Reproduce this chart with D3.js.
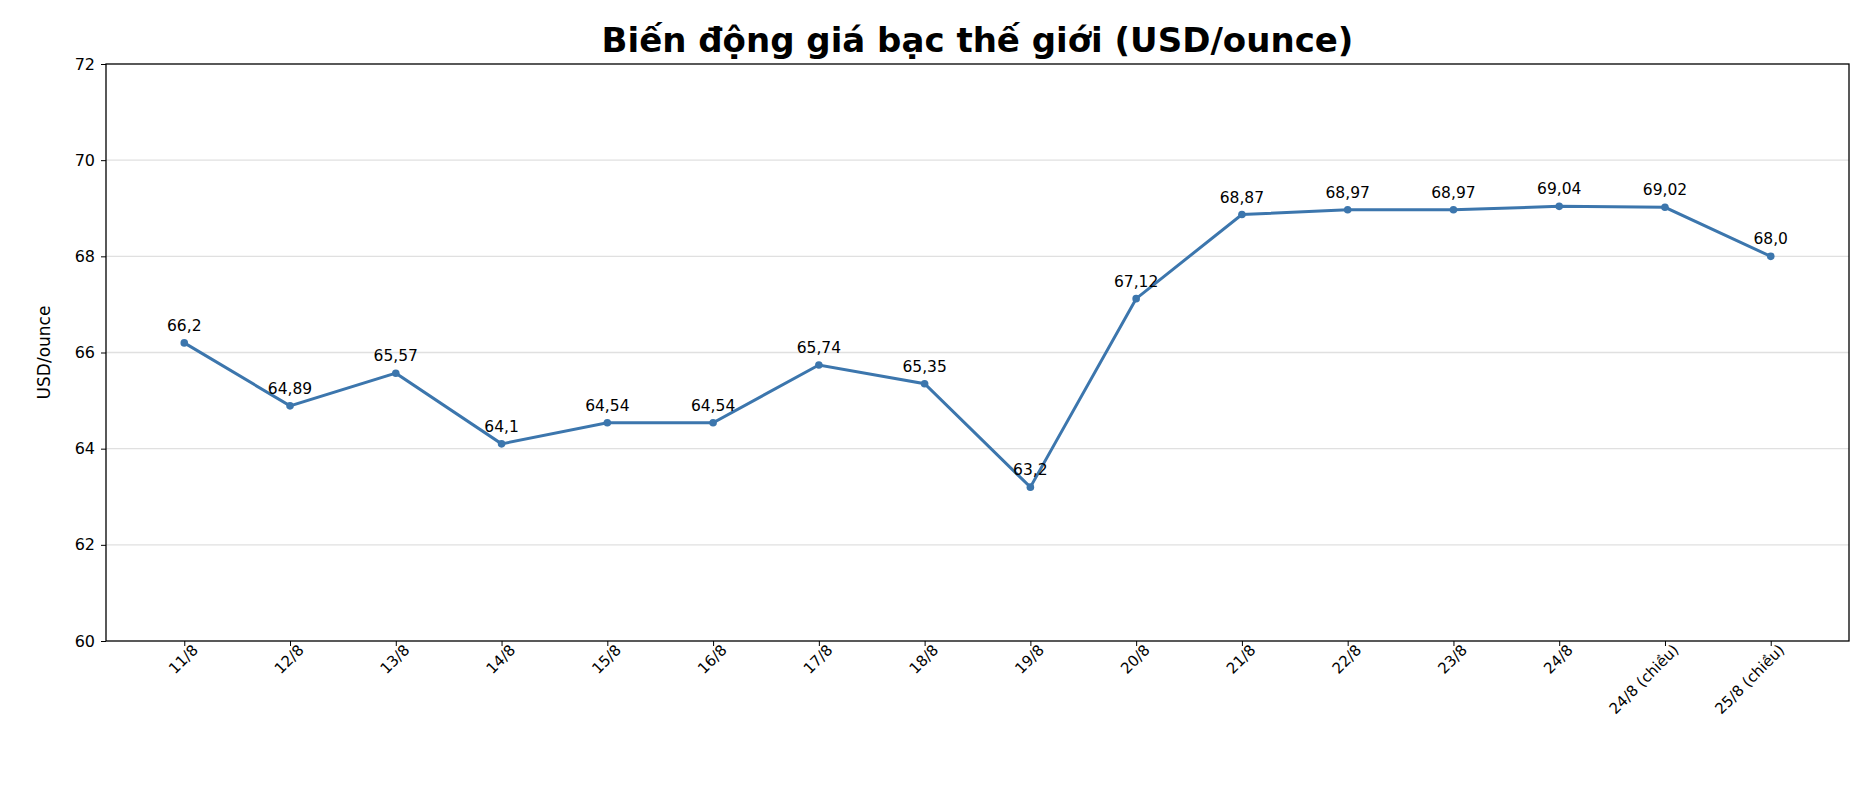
<!DOCTYPE html>
<html><head><meta charset="utf-8">
<script src="https://cdn.jsdelivr.net/npm/d3@7"></script>
<style>body{margin:0;background:#fff}text{font-family:"DejaVu Sans",sans-serif}</style>
</head><body><svg id="c" width="1876" height="786"></svg>
<script>
const categories=["11/8","12/8","13/8","14/8","15/8","16/8","17/8","18/8","19/8","20/8","21/8","22/8","23/8","24/8","24/8 (chiều)","25/8 (chiều)"];
const values=[66.2,64.89,65.57,64.1,64.54,64.54,65.74,65.35,63.2,67.12,68.87,68.97,68.97,69.04,69.02,68.0];
const labels=["66,2","64,89","65,57","64,1","64,54","64,54","65,74","65,35","63,2","67,12","68,87","68,97","68,97","69,04","69,02","68,0"];
const yTicks=[60,62,64,66,68,70,72];
const svg=d3.select("#c");
const L=106,R=1849,T=64,B=641;
const x=d3.scalePoint().domain(categories).range([L,R]).padding(0.74);
const y=d3.scaleLinear().domain([60,72]).range([B,T]);
svg.append("g").selectAll("line").data(yTicks.slice(1,-1)).join("line")
 .attr("x1",L).attr("x2",R).attr("y1",d=>y(d)).attr("y2",d=>y(d)).attr("stroke","#e0e0e0").attr("stroke-width",1.3);
const ya=svg.append("g").attr("transform",`translate(${L},0)`).call(d3.axisLeft(y).tickValues(yTicks).tickSize(5).tickPadding(6));
ya.selectAll("text").attr("font-size",16).attr("fill","#000").attr("font-family","DejaVu Sans");
const xa=svg.append("g").attr("transform",`translate(0,${B})`).call(d3.axisBottom(x).tickSize(5));
xa.selectAll("text").attr("font-size",15).attr("fill","#000").attr("font-family","DejaVu Sans")
 .attr("text-anchor","end").attr("dx","0.2em").attr("dy","0.6em").attr("transform","rotate(-45)");
svg.selectAll(".domain").remove();
svg.append("rect").attr("x",L).attr("y",T).attr("width",R-L).attr("height",B-T).attr("fill","none").attr("stroke","#000").attr("stroke-width",1.3);
svg.append("path").datum(values).attr("fill","none").attr("stroke","#3c76ad").attr("stroke-width",3)
 .attr("d",d3.line().x((d,i)=>x(categories[i])).y(d=>y(d)));
svg.append("g").selectAll("circle").data(values).join("circle").attr("cx",(d,i)=>x(categories[i])).attr("cy",d=>y(d)).attr("r",3.8).attr("fill","#3c76ad");
svg.append("g").selectAll("text").data(values).join("text").attr("x",(d,i)=>x(categories[i])).attr("y",d=>y(d)-12)
 .attr("text-anchor","middle").attr("font-size",15.5).text((d,i)=>labels[i]);
svg.append("text").attr("x",(L+R)/2).attr("y",52).attr("text-anchor","middle").attr("font-size",34).attr("font-weight","bold").text("Biến động giá bạc thế giới (USD/ounce)");
svg.append("text").attr("transform",`translate(50,${(T+B)/2}) rotate(-90)`).attr("text-anchor","middle").attr("font-size",17).text("USD/ounce");
</script></body></html>
